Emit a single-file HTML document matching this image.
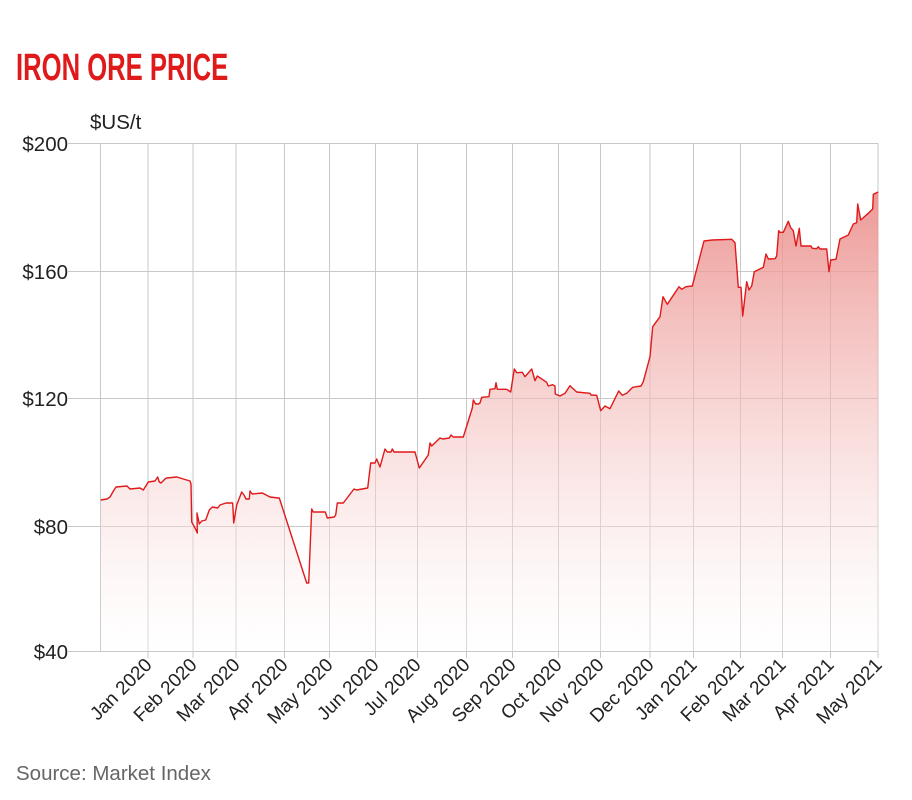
<!DOCTYPE html>
<html><head><meta charset="utf-8"><style>
html,body{margin:0;padding:0;background:#fff;}
svg{display:block;font-family:"Liberation Sans",sans-serif;}
</style></head><body>
<svg width="912" height="800" viewBox="0 0 912 800" xmlns="http://www.w3.org/2000/svg">
<defs>
<linearGradient id="g" gradientUnits="userSpaceOnUse" x1="0" y1="143" x2="0" y2="651">
<stop offset="0" stop-color="#e8807c" stop-opacity="0.95"/>
<stop offset="0.5" stop-color="#f2b8b6" stop-opacity="0.6"/>
<stop offset="1" stop-color="#ffffff" stop-opacity="0.3"/>
</linearGradient>
</defs>
<text x="16" y="80" font-size="38" font-weight="bold" fill="#e0191a" transform="translate(16 0) scale(0.675 1) translate(-16 0)">IRON ORE PRICE</text>
<text x="90" y="129" font-size="20.5" fill="#222">$US/t</text>
<g stroke="#c8c8c8" stroke-width="1">
<line x1="68" y1="143.5" x2="878" y2="143.5"/>
<line x1="68" y1="271.5" x2="878" y2="271.5"/>
<line x1="68" y1="398.5" x2="878" y2="398.5"/>
<line x1="68" y1="526.5" x2="878" y2="526.5"/>
<line x1="68" y1="651.5" x2="878" y2="651.5"/>
<line x1="100.5" y1="143" x2="100.5" y2="651"/>
<line x1="148" y1="143" x2="148" y2="658"/>
<line x1="193" y1="143" x2="193" y2="658"/>
<line x1="236" y1="143" x2="236" y2="658"/>
<line x1="284.5" y1="143" x2="284.5" y2="658"/>
<line x1="329.5" y1="143" x2="329.5" y2="658"/>
<line x1="375.5" y1="143" x2="375.5" y2="658"/>
<line x1="417.5" y1="143" x2="417.5" y2="658"/>
<line x1="466.5" y1="143" x2="466.5" y2="658"/>
<line x1="512.5" y1="143" x2="512.5" y2="658"/>
<line x1="558.5" y1="143" x2="558.5" y2="658"/>
<line x1="600.5" y1="143" x2="600.5" y2="658"/>
<line x1="650" y1="143" x2="650" y2="658"/>
<line x1="693.5" y1="143" x2="693.5" y2="658"/>
<line x1="740.5" y1="143" x2="740.5" y2="658"/>
<line x1="782.5" y1="143" x2="782.5" y2="658"/>
<line x1="830.5" y1="143" x2="830.5" y2="658"/>
<line x1="878" y1="143" x2="878" y2="658"/>
</g>
<g font-size="20.5" fill="#222" text-anchor="end">
<text x="68" y="151">$200</text>
<text x="68" y="279">$160</text>
<text x="68" y="406">$120</text>
<text x="68" y="534">$80</text>
<text x="68" y="659">$40</text>
</g>
<g font-size="19" fill="#222" text-anchor="end">
<text transform="translate(153 666) rotate(-45)">Jan 2020</text>
<text transform="translate(198 666) rotate(-45)">Feb 2020</text>
<text transform="translate(241 666) rotate(-45)">Mar 2020</text>
<text transform="translate(289 666) rotate(-45)">Apr 2020</text>
<text transform="translate(334 666) rotate(-45)">May 2020</text>
<text transform="translate(380 666) rotate(-45)">Jun 2020</text>
<text transform="translate(422 666) rotate(-45)">Jul 2020</text>
<text transform="translate(471 666) rotate(-45)">Aug 2020</text>
<text transform="translate(517 666) rotate(-45)">Sep 2020</text>
<text transform="translate(563 666) rotate(-45)">Oct 2020</text>
<text transform="translate(605 666) rotate(-45)">Nov 2020</text>
<text transform="translate(655 666) rotate(-45)">Dec 2020</text>
<text transform="translate(698 666) rotate(-45)">Jan 2021</text>
<text transform="translate(745 666) rotate(-45)">Feb 2021</text>
<text transform="translate(787 666) rotate(-45)">Mar 2021</text>
<text transform="translate(835 666) rotate(-45)">Apr 2021</text>
<text transform="translate(883 666) rotate(-45)">May 2021</text>
</g>
<path fill="url(#g)" stroke="none" d="M100.7,500 L107,499 L110,497 L114,490 L116,487 L127,486 L130,489 L140,488 L143.3,490 L148.3,482 L155,481 L157.7,477 L159.3,482 L161,483 L165,479 L166.7,478 L176.7,477 L183.3,479 L190,481 L191,484 L191.7,522 L195,528 L197.3,533 L197,513 L199.3,524 L201.7,521 L205.7,520 L209.3,510 L212.3,507 L217.7,508 L220,505 L226,503 L232.7,503 L233.7,523 L236.7,505 L241.7,492 L244,495 L246,499 L249.3,499 L250,491 L252.3,494 L262.3,493 L270,497 L278.3,498 L279.3,498 L306.7,583 L308.7,583 L311.7,509 L313.3,512 L325.3,512 L327.3,518 L334.3,517 L335.7,515 L337.3,503 L343.3,503 L354,489 L356.7,490 L367.7,488 L370.7,463 L375,463 L376.7,459 L380,467 L385,449 L387.3,452 L391,452 L392.3,449 L394,452 L415,452 L419.3,468 L428.3,455 L430,443 L431.7,446 L440,438 L442.7,439 L449.3,438 L451,435 L453.3,437 L463.3,437 L472.3,408 L473.3,400 L475.7,404 L478.3,404 L480,403 L481.7,397.3 L489,396.7 L490,389.3 L495,388.7 L496,382.7 L497.3,389.3 L506.7,389.3 L510.7,392 L514.3,369 L516.7,372.7 L522.3,372.3 L525,376.7 L531.7,369 L535,380.7 L537.3,376 L546.7,382.3 L548.3,386 L552.7,384.7 L555,386 L555.3,394 L560,396 L565,393.3 L570,385.7 L572.3,388 L576.7,392 L590,393.3 L591,395 L596.7,395.3 L600.7,410.7 L605,406 L610,408.7 L618.7,391 L622.3,395.3 L626.7,393.3 L632.7,387.3 L641,386 L643.3,381.7 L650,356.7 L652.7,326.7 L660,316.7 L663,296.7 L667.3,304.3 L679,286.7 L681.7,289.3 L686,286.7 L692.3,286 L704,241 L712.3,240 L731.7,239.3 L735,242.7 L738.3,287.3 L741,287.3 L742.7,316 L746.7,281.7 L749,290 L751.7,286 L754.3,271.7 L763.3,267.3 L766,254 L768.3,259 L775,258.7 L776.7,256 L778.7,230.7 L780,232.3 L783.3,232.3 L788.3,221.3 L790.7,227.7 L793.3,230.7 L796,246 L799.3,228.3 L801,246 L811,246 L812.3,248.3 L816.7,248.7 L818.3,246.7 L820,249 L826.7,249 L829,271.7 L830.7,260 L836,259.3 L840,239 L848.3,235 L853.3,224 L856.7,222.7 L857.7,204 L860.7,220 L868.3,213.3 L872.7,209 L873.3,194.3 L876.7,192.7 L878.3,192 L878.3,651 L100.7,651 Z"/>
<path fill="none" stroke="#e0191a" stroke-width="1.4" stroke-linejoin="round" d="M100.7,500 L107,499 L110,497 L114,490 L116,487 L127,486 L130,489 L140,488 L143.3,490 L148.3,482 L155,481 L157.7,477 L159.3,482 L161,483 L165,479 L166.7,478 L176.7,477 L183.3,479 L190,481 L191,484 L191.7,522 L195,528 L197.3,533 L197,513 L199.3,524 L201.7,521 L205.7,520 L209.3,510 L212.3,507 L217.7,508 L220,505 L226,503 L232.7,503 L233.7,523 L236.7,505 L241.7,492 L244,495 L246,499 L249.3,499 L250,491 L252.3,494 L262.3,493 L270,497 L278.3,498 L279.3,498 L306.7,583 L308.7,583 L311.7,509 L313.3,512 L325.3,512 L327.3,518 L334.3,517 L335.7,515 L337.3,503 L343.3,503 L354,489 L356.7,490 L367.7,488 L370.7,463 L375,463 L376.7,459 L380,467 L385,449 L387.3,452 L391,452 L392.3,449 L394,452 L415,452 L419.3,468 L428.3,455 L430,443 L431.7,446 L440,438 L442.7,439 L449.3,438 L451,435 L453.3,437 L463.3,437 L472.3,408 L473.3,400 L475.7,404 L478.3,404 L480,403 L481.7,397.3 L489,396.7 L490,389.3 L495,388.7 L496,382.7 L497.3,389.3 L506.7,389.3 L510.7,392 L514.3,369 L516.7,372.7 L522.3,372.3 L525,376.7 L531.7,369 L535,380.7 L537.3,376 L546.7,382.3 L548.3,386 L552.7,384.7 L555,386 L555.3,394 L560,396 L565,393.3 L570,385.7 L572.3,388 L576.7,392 L590,393.3 L591,395 L596.7,395.3 L600.7,410.7 L605,406 L610,408.7 L618.7,391 L622.3,395.3 L626.7,393.3 L632.7,387.3 L641,386 L643.3,381.7 L650,356.7 L652.7,326.7 L660,316.7 L663,296.7 L667.3,304.3 L679,286.7 L681.7,289.3 L686,286.7 L692.3,286 L704,241 L712.3,240 L731.7,239.3 L735,242.7 L738.3,287.3 L741,287.3 L742.7,316 L746.7,281.7 L749,290 L751.7,286 L754.3,271.7 L763.3,267.3 L766,254 L768.3,259 L775,258.7 L776.7,256 L778.7,230.7 L780,232.3 L783.3,232.3 L788.3,221.3 L790.7,227.7 L793.3,230.7 L796,246 L799.3,228.3 L801,246 L811,246 L812.3,248.3 L816.7,248.7 L818.3,246.7 L820,249 L826.7,249 L829,271.7 L830.7,260 L836,259.3 L840,239 L848.3,235 L853.3,224 L856.7,222.7 L857.7,204 L860.7,220 L868.3,213.3 L872.7,209 L873.3,194.3 L876.7,192.7 L878.3,192"/>
<text x="16" y="780" font-size="20.5" fill="#666">Source: Market Index</text>
</svg>
</body></html>
